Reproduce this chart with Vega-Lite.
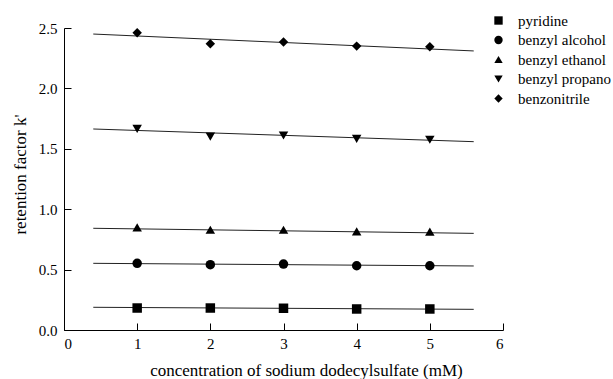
{
  "$schema": "https://vega.github.io/schema/vega-lite/v6.json",
  "width": 439,
  "height": 302,
  "autosize": "none",
  "padding": {"left": 64, "top": 28, "right": 110, "bottom": 49},
  "background": "white",
  "config": {
    "view": {"stroke": null},
    "font": "Liberation Serif",
    "axis": {
      "domainColor": "black",
      "domainWidth": 1,
      "labelColor": "black",
      "titleColor": "black",
      "labelFont": "Liberation Serif",
      "titleFont": "Liberation Serif",
      "labelFontSize": 15,
      "titleFontSize": 17,
      "titleFontWeight": "normal"
    },
    "legend": {
      "labelFont": "Liberation Serif",
      "labelFontSize": 15,
      "labelColor": "black"
    }
  },
  "datasets": {
    "points": [
      {"compound": "pyridine", "conc": 1, "k": 0.182},
      {"compound": "pyridine", "conc": 2, "k": 0.182},
      {"compound": "pyridine", "conc": 3, "k": 0.180},
      {"compound": "pyridine", "conc": 4, "k": 0.174},
      {"compound": "pyridine", "conc": 5, "k": 0.174},
      {"compound": "benzyl alcohol", "conc": 1, "k": 0.552},
      {"compound": "benzyl alcohol", "conc": 2, "k": 0.541},
      {"compound": "benzyl alcohol", "conc": 3, "k": 0.546},
      {"compound": "benzyl alcohol", "conc": 4, "k": 0.532},
      {"compound": "benzyl alcohol", "conc": 5, "k": 0.532},
      {"compound": "benzyl ethanol", "conc": 1, "k": 0.850},
      {"compound": "benzyl ethanol", "conc": 2, "k": 0.830},
      {"compound": "benzyl ethanol", "conc": 3, "k": 0.830},
      {"compound": "benzyl ethanol", "conc": 4, "k": 0.817},
      {"compound": "benzyl ethanol", "conc": 5, "k": 0.815},
      {"compound": "benzyl propano", "conc": 1, "k": 1.665},
      {"compound": "benzyl propano", "conc": 2, "k": 1.600},
      {"compound": "benzyl propano", "conc": 3, "k": 1.610},
      {"compound": "benzyl propano", "conc": 4, "k": 1.582},
      {"compound": "benzyl propano", "conc": 5, "k": 1.575},
      {"compound": "benzonitrile", "conc": 1, "k": 2.46},
      {"compound": "benzonitrile", "conc": 2, "k": 2.37},
      {"compound": "benzonitrile", "conc": 3, "k": 2.385},
      {"compound": "benzonitrile", "conc": 4, "k": 2.35},
      {"compound": "benzonitrile", "conc": 5, "k": 2.345}
    ],
    "lines": [
      {"compound": "pyridine", "conc": 0.4, "k": 0.188},
      {"compound": "pyridine", "conc": 5.6, "k": 0.171},
      {"compound": "benzyl alcohol", "conc": 0.4, "k": 0.552},
      {"compound": "benzyl alcohol", "conc": 5.6, "k": 0.530},
      {"compound": "benzyl ethanol", "conc": 0.4, "k": 0.842},
      {"compound": "benzyl ethanol", "conc": 5.6, "k": 0.800},
      {"compound": "benzyl propano", "conc": 0.4, "k": 1.664},
      {"compound": "benzyl propano", "conc": 5.6, "k": 1.559},
      {"compound": "benzonitrile", "conc": 0.4, "k": 2.45},
      {"compound": "benzonitrile", "conc": 5.6, "k": 2.31}
    ]
  },
  "layer": [
    {
      "data": {"name": "lines"},
      "mark": {"type": "line", "color": "#222222", "strokeWidth": 1},
      "encoding": {
        "x": {
          "field": "conc",
          "type": "quantitative",
          "scale": {"domain": [0, 6], "nice": false, "zero": false},
          "axis": {
            "title": "concentration of sodium dodecylsulfate (mM)",
            "values": [0, 0.5, 1, 1.5, 2, 2.5, 3, 3.5, 4, 4.5, 5, 5.5, 6],
            "labelExpr": "datum.value % 1 == 0 ? format(datum.value, 'd') : ''",
            "labelFont": "Liberation Serif",
            "ticks": false,
            "labelPadding": 6,
            "grid": true,
            "gridColor": "black",
            "gridOpacity": 1,
            "gridWidth": 1,
            "gridDash": {"condition": {"test": "datum.value % 1 == 0", "value": [7, 1000]}, "value": [4, 1000]},
            "gridDashOffset": {"condition": {"test": "datum.value % 1 == 0", "value": 712}, "value": 706},
            "titleX": 242,
            "titleY": 40,
            "titleBaseline": "middle"
          }
        },
        "y": {
          "field": "k",
          "type": "quantitative",
          "scale": {"domain": [0, 2.5], "nice": false},
          "axis": {
            "title": "retention factor k'",
            "values": [0, 0.25, 0.5, 0.75, 1, 1.25, 1.5, 1.75, 2, 2.25, 2.5],
            "labelExpr": "(datum.value * 2) % 1 == 0 ? format(datum.value, '.1f') : ''",
            "labelFont": "Liberation Serif",
            "ticks": false,
            "labelPadding": 7,
            "grid": true,
            "gridColor": "black",
            "gridOpacity": 1,
            "gridWidth": 1,
            "gridDash": {"condition": {"test": "(datum.value * 2) % 1 == 0", "value": [7, 1000]}, "value": [4, 1000]},
            "titleX": -44,
            "titleY": 146,
            "titleBaseline": "middle"
          }
        },
        "detail": {"field": "compound"}
      }
    },
    {
      "data": {"name": "points"},
      "mark": {"type": "point", "filled": true, "opacity": 1, "color": "black", "size": 90},
      "encoding": {
        "x": {"field": "conc", "type": "quantitative"},
        "y": {"field": "k", "type": "quantitative"},
        "shape": {
          "field": "compound",
          "type": "nominal",
          "scale": {
            "domain": ["pyridine", "benzyl alcohol", "benzyl ethanol", "benzyl propano", "benzonitrile"],
            "range": ["square", "circle", "triangle-up", "triangle-down", "diamond"]
          },
          "legend": {
            "title": null,
            "orient": "none",
            "legendX": 427,
            "legendY": -15,
            "padding": 0,
            "rowPadding": 3.5,
            "labelOffset": 12,
            "symbolFillColor": "black",
            "symbolStrokeColor": "black",
            "symbolStrokeWidth": 0,
            "symbolSize": 70,
            "symbolOpacity": 1
          }
        }
      }
    }
  ]
}
